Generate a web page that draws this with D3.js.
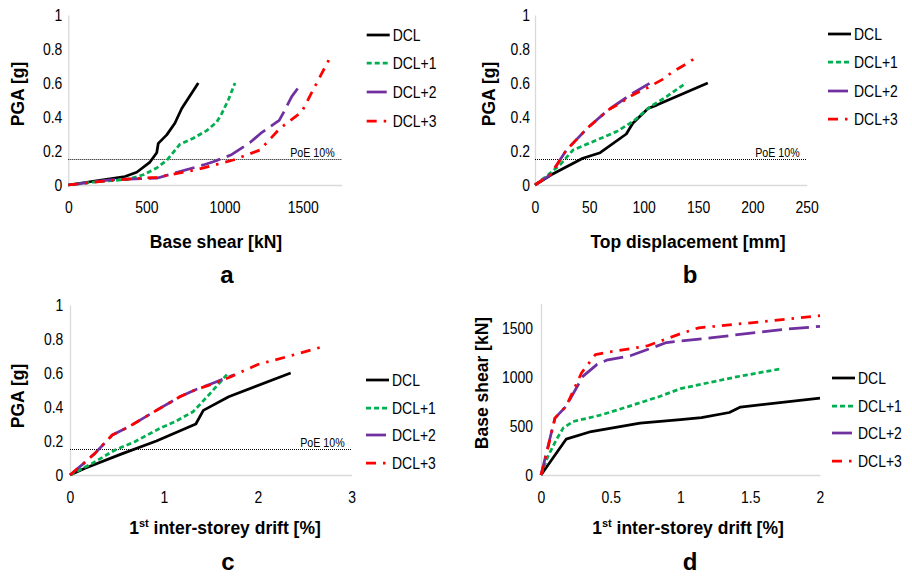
<!DOCTYPE html>
<html>
<head>
<meta charset="utf-8">
<script src="https://cdn.jsdelivr.net/npm/d3@7/dist/d3.min.js"></script>
<style>
  html, body { margin: 0; padding: 0; background: #fff; }
  svg { display: block; }
  .tick text, .leg text, .poe { font-family: "Liberation Sans", Arial, sans-serif; }
  .title { font-family: "Liberation Sans", Arial, sans-serif; font-weight: bold; }
</style>
</head>
<body>
<svg id="chart" width="912" height="577"></svg>
<script>
// Series names and styling
const seriesNames = ["DCL", "DCL+1", "DCL+2", "DCL+3"];

// Panel a: PGA [g] vs base shear [kN]  -> [shear, pga]
const shearPgaDCL  = [[0,0],[180,0.025],[363,0.05],[438,0.075],[523,0.135],[566,0.19],[576,0.245],[630,0.295],[682,0.363],[726,0.45],[832,0.6]];
const shearPgaDCL1 = [[0,0],[190,0.02],[374,0.032],[480,0.06],[566,0.1],[630,0.145],[715,0.24],[800,0.275],[886,0.32],[950,0.37],[982,0.42],[1024,0.5],[1067,0.6]];
const shearPgaDCL2 = [[0,0],[268,0.03],[566,0.04],[864,0.118],[928,0.137],[1040,0.176],[1163,0.25],[1240,0.31],[1350,0.38],[1380,0.43],[1430,0.52],[1494,0.6]];
const shearPgaDCL3 = [[0,0],[300,0.03],[566,0.045],[822,0.09],[1056,0.147],[1227,0.206],[1355,0.333],[1494,0.43],[1590,0.6],[1676,0.75]];

// Panel b: PGA [g] vs top displacement [mm]
const dispPgaDCL  = [[0,0],[15,0.06],[44,0.157],[60,0.19],[84,0.3],[90,0.363],[104,0.45],[112,0.47],[159,0.6]];
const dispPgaDCL1 = [[0,0],[12,0.06],[23,0.118],[35,0.206],[57,0.265],[75,0.314],[90,0.373],[106,0.46],[121,0.52],[139,0.6]];
const dispPgaDCL2 = [[0,0],[14,0.06],[20,0.118],[29,0.206],[48,0.333],[67,0.44],[90,0.54],[106,0.6]];
const dispPgaDCL3 = [[0,0],[14,0.06],[20,0.118],[29,0.206],[48,0.333],[67,0.44],[78,0.48],[90,0.53],[103,0.57],[117,0.62],[127,0.667],[140,0.715],[148,0.75]];

// Panel c: PGA [g] vs 1st inter-storey drift [%]
const driftPgaDCL  = [[0,0],[0.16,0.04],[0.53,0.12],[0.92,0.2],[1.34,0.3],[1.42,0.38],[1.69,0.46],[2.35,0.6]];
const driftPgaDCL1 = [[0,0],[0.24,0.07],[0.48,0.147],[0.69,0.196],[0.96,0.275],[1.12,0.314],[1.31,0.372],[1.46,0.46],[1.67,0.59]];
const driftPgaDCL2 = [[0,0],[0.15,0.07],[0.27,0.13],[0.45,0.235],[0.63,0.285],[0.92,0.38],[1.17,0.46],[1.33,0.5],[1.52,0.54],[1.75,0.59]];
const driftPgaDCL3 = [[0,0],[0.15,0.07],[0.27,0.13],[0.45,0.235],[0.63,0.285],[0.92,0.38],[1.17,0.46],[1.33,0.5],[1.52,0.535],[1.72,0.58],[2.0,0.65],[2.34,0.7],[2.66,0.75]];

// Panel d: base shear [kN] vs 1st inter-storey drift [%]
const driftShearDCL  = [[0,0],[0.18,365],[0.36,443],[0.71,528],[1.0,565],[1.15,585],[1.35,637],[1.43,692],[2.0,784]];
const driftShearDCL1 = [[0,0],[0.05,190],[0.11,360],[0.16,480],[0.23,545],[0.44,615],[0.63,700],[0.85,800],[1.0,880],[1.2,940],[1.4,1000],[1.71,1080]];
const driftShearDCL2 = [[0,0],[0.05,290],[0.1,580],[0.18,700],[0.3,1005],[0.4,1125],[0.47,1170],[0.64,1215],[0.9,1350],[1.23,1400],[1.71,1480],[2.0,1515]];
const driftShearDCL3 = [[0,0],[0.04,220],[0.1,580],[0.18,700],[0.29,1040],[0.39,1227],[0.47,1250],[0.76,1315],[1.0,1440],[1.13,1500],[1.64,1570],[2.0,1625]];

// Tick labels
const pgaTicks = [0, 0.2, 0.4, 0.6, 0.8, 1];
const shearTicksA = [0, 500, 1000, 1500];
const dispTicks = [0, 50, 100, 150, 200, 250];
const driftTicksC = [0, 1, 2, 3];
const driftTicksD = [0, 0.5, 1, 1.5, 2];
const shearTicksD = [0, 500, 1000, 1500];

// Probability-of-exceedance reference level [g]
const poeLevel = 0.15;
const poeLabel = "PoE 10%";

const styles = [
  { color: "#000000", dash: null },
  { color: "#00B050", dash: "5,3" },
  { color: "#7030A0", dash: "20,7" },
  { color: "#FF0000", dash: "10,7,2.5,7" }
];

const panels = [
  { letter: "a", series: [shearPgaDCL, shearPgaDCL1, shearPgaDCL2, shearPgaDCL3],
    xDomain: [0, 1750], yDomain: [0, 1], xTicks: shearTicksA, yTicks: pgaTicks,
    xRange: [68.3, 341.7], yRange: [185, 15], yPad: 6,
    xTitle: ["Base shear [kN]"], xTitleX: 216, xTitleY: 248,
    yTitle: "PGA [g]", yTitleX: 18, yTitleY: 94,
    letterX: 227, letterY: 283, poe: true,
    legX: 366.7, legY: [35, 63, 92, 121] },
  { letter: "b", series: [dispPgaDCL, dispPgaDCL1, dispPgaDCL2, dispPgaDCL3],
    xDomain: [0, 250], yDomain: [0, 1], xTicks: dispTicks, yTicks: pgaTicks,
    xRange: [535, 806.7], yRange: [185, 15], yPad: 5,
    xTitle: ["Top displacement [mm]"], xTitleX: 688, xTitleY: 248,
    yTitle: "PGA [g]", yTitleX: 489, yTitleY: 94,
    letterX: 690, letterY: 283, poe: true,
    legX: 828, legY: [34, 62, 91, 119] },
  { letter: "c", series: [driftPgaDCL, driftPgaDCL1, driftPgaDCL2, driftPgaDCL3],
    xDomain: [0, 3], yDomain: [0, 1], xTicks: driftTicksC, yTicks: pgaTicks,
    xRange: [70, 351.7], yRange: [475, 305], yPad: 6.7,
    xTitle: "drift", xTitleX: 225, xTitleY: 534,
    yTitle: "PGA [g]", yTitleX: 18, yTitleY: 396,
    letterX: 228, letterY: 570, poe: true,
    legX: 366, legY: [380, 408, 435, 463] },
  { letter: "d", series: [driftShearDCL, driftShearDCL1, driftShearDCL2, driftShearDCL3],
    xDomain: [0, 2], yDomain: [0, 1750], xTicks: driftTicksD, yTicks: shearTicksD,
    xRange: [541, 820], yRange: [475, 303.3], yPad: 8,
    xTitle: "drift", xTitleX: 688, xTitleY: 534,
    yTitle: "Base shear [kN]", yTitleX: 482, yTitleY: 383,
    letterX: 690, letterY: 570, poe: false,
    legX: 832, legY: [378, 406, 433, 461] }
];

// Condense regular text horizontally (narrow face look)
function narrow(sel, k = 0.82) {
  sel.each(function () {
    const len = this.getComputedTextLength();
    d3.select(this).attr("textLength", len * k).attr("lengthAdjust", "spacingAndGlyphs");
  });
}

const svg = d3.select("#chart");

panels.forEach(p => {
  const x = d3.scaleLinear().domain(p.xDomain).range(p.xRange);
  const y = d3.scaleLinear().domain(p.yDomain).range(p.yRange);
  const g = svg.append("g");

  // horizontal axis
  const xAxis = g.append("g")
    .attr("transform", `translate(0,${p.yRange[0]})`)
    .call(d3.axisBottom(x).tickValues(p.xTicks).tickSize(0).tickSizeOuter(0).tickPadding(16).tickFormat(d => String(d)));
  xAxis.select(".domain").attr("stroke", "#d9d9d9").attr("stroke-width", 1.3);
  xAxis.selectAll(".tick text").attr("font-size", 17).attr("fill", "#000").call(narrow);

  // vertical axis
  const yAxis = g.append("g")
    .attr("transform", `translate(${p.xRange[0]},0)`)
    .call(d3.axisLeft(y).tickValues(p.yTicks).tickSize(0).tickSizeOuter(0).tickPadding(p.yPad).tickFormat(d => String(d)));
  yAxis.select(".domain").attr("stroke", "#d9d9d9").attr("stroke-width", 1.3);
  yAxis.selectAll(".tick text").attr("font-size", 17).attr("fill", "#000").call(narrow);

  // PoE reference line
  if (p.poe) {
    g.append("line")
      .attr("x1", p.xRange[0]).attr("x2", p.xRange[1])
      .attr("y1", y(poeLevel)).attr("y2", y(poeLevel))
      .attr("stroke", "#000").attr("stroke-width", 1).attr("stroke-dasharray", "1,1");
    g.append("text").attr("class", "poe")
      .attr("x", p.xRange[1] - 7).attr("y", y(poeLevel) - 3)
      .attr("text-anchor", "end").attr("font-size", 13)
      .text(poeLabel).call(narrow);
  }

  // series lines
  const line = d3.line().x(d => x(d[0])).y(d => y(d[1]));
  p.series.forEach((s, i) => {
    g.append("path")
      .datum(s)
      .attr("d", line)
      .attr("fill", "none")
      .attr("stroke", styles[i].color)
      .attr("stroke-width", 2.75)
      .attr("stroke-linejoin", "round")
      .attr("stroke-dasharray", styles[i].dash);
  });

  // legend
  const leg = g.append("g").attr("class", "leg");
  seriesNames.forEach((name, i) => {
    leg.append("line")
      .attr("x1", p.legX).attr("x2", p.legX + 23)
      .attr("y1", p.legY[i]).attr("y2", p.legY[i])
      .attr("stroke", styles[i].color).attr("stroke-width", 2.75)
      .attr("stroke-dasharray", styles[i].dash);
    leg.append("text")
      .attr("x", p.legX + 26).attr("y", p.legY[i])
      .attr("dy", "0.35em").attr("font-size", 17)
      .text(name).call(narrow);
  });

  // horizontal axis title
  const xt = g.append("text").attr("class", "title")
    .attr("x", p.xTitleX).attr("y", p.xTitleY)
    .attr("text-anchor", "middle").attr("font-size", 17.5);
  if (p.xTitle === "drift") {
    xt.append("tspan").text("1");
    xt.append("tspan").attr("font-size", 11).attr("dy", -7).text("st");
    xt.append("tspan").attr("dy", 7).text(" inter-storey drift [%]");
  } else {
    xt.text(p.xTitle[0]);
  }

  // vertical axis title
  g.append("text").attr("class", "title")
    .attr("transform", `translate(${p.yTitleX},${p.yTitleY}) rotate(-90)`)
    .attr("text-anchor", "middle").attr("dominant-baseline", "central")
    .attr("font-size", 17.5)
    .text(p.yTitle);

  // panel letter
  g.append("text").attr("class", "title")
    .attr("x", p.letterX).attr("y", p.letterY)
    .attr("text-anchor", "middle").attr("font-size", 24)
    .text(p.letter);
});
</script>
</body>
</html>
